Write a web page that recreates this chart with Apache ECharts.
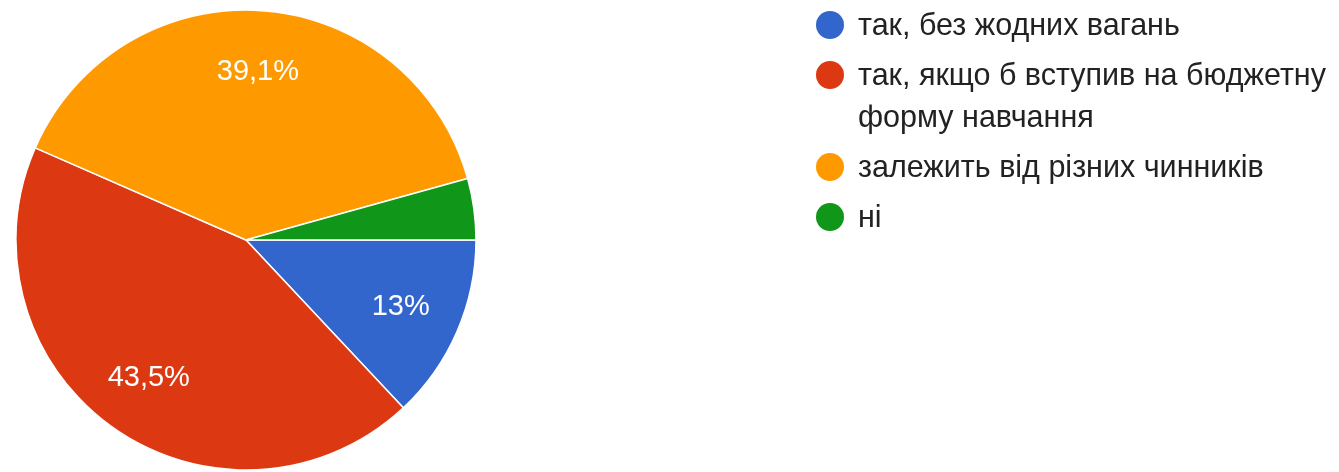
<!DOCTYPE html>
<html>
<head>
<meta charset="utf-8">
<script src="https://cdn.jsdelivr.net/npm/echarts@6/dist/echarts.min.js"></script>
<style>
  html, body { margin: 0; padding: 0; background: #fff; }
  #chart { width: 1339px; height: 472px; }
</style>
</head>
<body>
<div id="chart"></div>
<script>
// Survey answers and their shares (%)
const categories = [
  'так, без жодних вагань',
  'так, якщо б вступив на бюджетну\nформу навчання',
  'залежить від різних чинників',
  'ні'
];
const shares = [13, 43.5, 39.1, 4.3];
const colors = ['#3366cc', '#dc3912', '#ff9900', '#109618'];

const FONT = '"Liberation Sans", Arial, sans-serif';
const center = [246, 240];
const R = 230;

const chart = echarts.init(document.getElementById('chart'), null, { renderer: 'canvas' });

const pieData = categories.map((name, i) => ({ name, value: shares[i] }));

function fmtPct(v) {
  const s = (Math.round(v * 10) / 10).toString().replace('.', ',');
  return s + '%';
}

// Legend: circle marker plus (possibly two-line) text for each category
const legendX = 830, firstY = 25, lineH = 42, itemGap = 8;
const legendGraphics = [];
let y = firstY;
categories.forEach((name, i) => {
  const lines = name.split('\n');
  legendGraphics.push({
    type: 'circle',
    shape: { cx: legendX, cy: y, r: 14 },
    style: { fill: colors[i] },
    silent: true
  });
  lines.forEach((ln, k) => {
    legendGraphics.push({
      type: 'text',
      x: legendX + 28,
      y: y + k * lineH + 2,
      style: {
        text: ln,
        fill: '#222222',
        font: '30.5px ' + FONT,
        verticalAlign: 'middle',
        align: 'left'
      },
      silent: true
    });
  });
  y += lines.length * lineH + itemGap;
});

chart.setOption({
  animation: false,
  backgroundColor: '#ffffff',
  color: colors,
  graphic: legendGraphics,
  series: [
    {
      type: 'pie',
      center: center,
      radius: [0, R],
      startAngle: 0,
      clockwise: true,
      data: pieData,
      label: { show: false },
      labelLine: { show: false },
      itemStyle: { borderColor: '#ffffff', borderWidth: 1.5 },
      emphasis: { disabled: true },
      silent: true
    },
    {
      // transparent ring used only to place the percentage labels
      type: 'pie',
      center: center,
      radius: [R * 0.44, R],
      startAngle: 0,
      clockwise: true,
      data: pieData.map((d, i) => ({
        name: d.name,
        value: d.value,
        label: { show: d.value >= 5 }
      })),
      itemStyle: { color: 'rgba(0,0,0,0)', borderWidth: 0 },
      label: {
        show: true,
        position: 'inside',
        formatter: p => fmtPct(p.value),
        color: '#ffffff',
        fontFamily: FONT,
        fontSize: 29
      },
      labelLine: { show: false },
      emphasis: { disabled: true },
      silent: true
    }
  ]
});
</script>
</body>
</html>
